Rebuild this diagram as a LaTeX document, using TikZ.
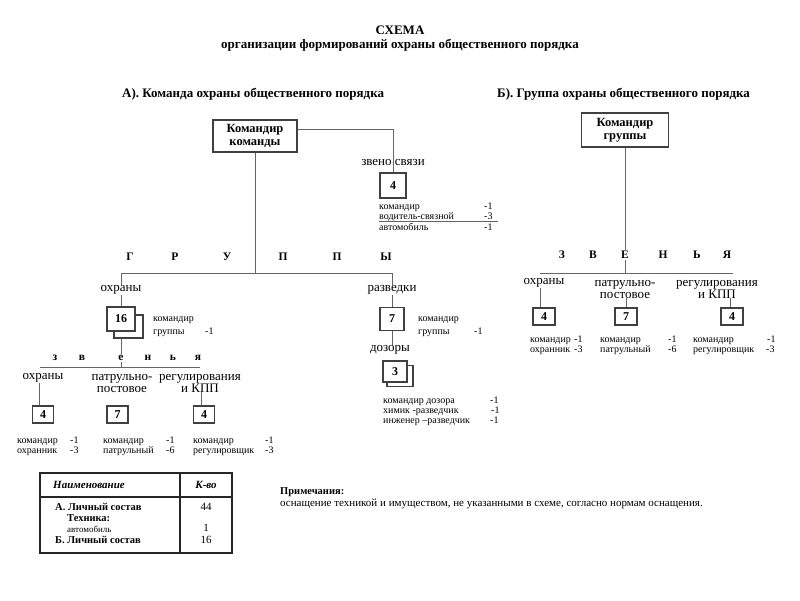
\documentclass[tikz,border=0pt]{standalone}
\usepackage{fontspec}
\setmainfont{Liberation Serif}
\begin{document}
\begin{tikzpicture}[x=1pt,y=-1pt,
  conn/.style={draw=black!60, line width=1pt},
  bx/.style={draw=black!75, line width=1.4pt, fill=white, inner sep=0pt, font=\bfseries\fontsize{12}{12}\selectfont},
  bigbx/.style={draw=black!75, line width=1.4pt, fill=white, inner sep=0pt, align=center, font=\bfseries\fontsize{12.5}{13}\selectfont},
  lbl/.style={inner sep=0pt, align=center, font=\fontsize{13}{12}\selectfont},
  lett/.style={inner sep=1pt, fill=white, font=\bfseries\fontsize{11.5}{12}\selectfont},
  sm/.style={inner sep=0pt, anchor=west, text height=6pt, text depth=2pt, font=\fontsize{10}{10}\selectfont},
  hd/.style={inner sep=0pt, font=\bfseries\fontsize{13}{13}\selectfont},
  tb/.style={inner sep=0pt, anchor=west, text height=6.5pt, text depth=1.5pt, font=\bfseries\fontsize{10.5}{10.5}\selectfont},
  tn/.style={inner sep=0pt, text height=6.5pt, text depth=1.5pt, font=\fontsize{11}{11}\selectfont},
]
\useasboundingbox (0,0) rectangle (800,600);

% titles
\node[hd] (title1) at (400,30) {СХЕМА};
\node[hd] (title2) at (400,45) {организации формирований охраны общественного порядка};
\node[hd, anchor=west] (headA) at (122,94) {А). Команда охраны общественного порядка};
\node[hd, anchor=west] (headB) at (497,94) {Б). Группа охраны общественного порядка};

% ===== A =====
\node[bigbx, minimum width=84pt, minimum height=32pt] (cmdA) at (255,136) {Командир\\команды};
\node[lbl] (zvs) at (393,162) {звено связи};
\node[bx, minimum width=26pt, minimum height=25pt] (b4z) at (393,185.5) {4};
\draw[conn] ([yshift=7pt]cmdA.east) -| (b4z.north);

\node[sm] (z1) at (379,207) {командир};
\node[sm] (z1v) at (484,207) {-1};
\node[sm] (z2) at (379,217) {водитель-связной};
\node[sm] (z2v) at (484,217) {-3};
\node[sm] (z3) at (379,228) {автомобиль};
\node[sm] (z3v) at (484,228) {-1};
\draw[conn, line width=0.8pt] (z2.south west) -- ([xshift=5pt]z2.south west -| z2v.east);

% groups
\coordinate (busA) at (121,273);
\node[lbl] (ohr) at (121,290) {охраны};
\node[lbl] (razv) at (392,290) {разведки};
\draw[conn] (cmdA.south) -- (cmdA.south |- busA);
\draw[conn] (ohr.north) -- (ohr.north |- busA) -- (razv.north |- busA) -- (razv.north);
\node[lett] (g1) at (130,257) {Г};
\node[lett] (g2) at (175,257) {Р};
\node[lett] (g3) at (227,257) {У};
\node[lett] (g4) at (283,257) {П};
\node[lett] (g5) at (337,257) {П};
\node[lett] (g6) at (386,257) {Ы};

% group of guards
\node[bx, minimum width=29pt, minimum height=23pt] (b16b) at (128.5,326.5) {};
\node[bx, minimum width=28pt, minimum height=24pt] (b16) at (121,319) {16};
\draw[conn] (ohr.south) -- (b16.north);
\node[sm] (g16a) at (153,319) {командир};
\node[sm] (g16b) at (153,332) {группы};
\node[sm] (g16c) at (205,332) {-1};

\coordinate (busZA) at (40,367);
\coordinate (busZA2) at (200,367);
\draw[conn] (busZA) -- (busZA2);
\draw[conn] (b16.south |- b16b.south) -- (b16.south |- busZA);
\node[lett] (l1) at (55,358) {з};
\node[lett] (l2) at (82,358) {в};
\node[lett] (l3) at (121,358) {е};
\node[lett] (l4) at (148,358) {н};
\node[lett] (l5) at (173,358) {ь};
\node[lett] (l6) at (198,358) {я};

\node[lbl] (oh2) at (43,378) {охраны};
\node[lbl] (pp) at (122,383) {патрульно-\\постовое};
\node[lbl] (reg) at (200,383) {регулирования\\и КПП};
\node[bx, minimum width=21pt, minimum height=17pt] (b4o) at (43,414.5) {4};
\node[bx, minimum width=21pt, minimum height=17pt] (b7p) at (117.5,414.5) {7};
\node[bx, minimum width=21pt, minimum height=17pt] (b4r) at (204,414.5) {4};
\draw[conn] ([xshift=-4pt]b4o.north) -- ([xshift=-4pt]b4o.north |- oh2.south);
\draw[conn] ([xshift=-3pt]b4r.north) -- ([xshift=-3pt]b4r.north |- reg.south);

\node[sm] (a1) at (17,441) {командир};
\node[sm] (a1v) at (70,441) {-1};
\node[sm] (a2) at (17,451) {охранник};
\node[sm] (a2v) at (70,451) {-3};
\node[sm] (a3) at (103,441) {командир};
\node[sm] (a3v) at (166,441) {-1};
\node[sm] (a4) at (103,451) {патрульный};
\node[sm] (a4v) at (166,451) {-6};
\node[sm] (a5) at (193,441) {командир};
\node[sm] (a5v) at (265,441) {-1};
\node[sm] (a6) at (193,451) {регулировщик};
\node[sm] (a6v) at (265,451) {-3};

% group of reconnaissance
\node[bx, minimum width=24pt, minimum height=23pt] (b7r) at (392,319) {7};
\draw[conn] (b7r.north |- razv.south) -- (b7r.north);
\node[sm] (r1) at (418,319) {командир};
\node[sm] (r2) at (418,332) {группы};
\node[sm] (r2v) at (474,332) {-1};
\node[lbl] (doz) at (390,350) {дозоры};
\draw[conn] (b7r.south) -- (b7r.south |- doz.north);
\node[bx, minimum width=26pt, minimum height=21pt] (b3b) at (400,376) {};
\node[bx, minimum width=24pt, minimum height=21pt] (b3) at (395,371.5) {3};
\node[sm] (d1) at (383,401) {командир дозора};
\node[sm] (d1v) at (490,401) {-1};
\node[sm] (d2) at (383,411) {химик -разведчик};
\node[sm] (d2v) at (491,411) {-1};
\node[sm] (d3) at (383,421) {инженер –разведчик};
\node[sm] (d3v) at (490,421) {-1};

% ===== B =====
\node[bigbx, minimum width=87pt, minimum height=34pt] (cmdB) at (625,130) {Командир\\группы};
\coordinate (busB1) at (540,273);
\coordinate (busB2) at (733,273);
\draw[conn] (busB1) -- (busB2);
\draw[conn] (cmdB.south) -- (cmdB.south |- busB1);
\node[lett] (m1) at (562,255) {З};
\node[lett] (m2) at (593,255) {В};
\node[lett] (m3) at (625,255) {Е};
\node[lett] (m4) at (663,255) {Н};
\node[lett] (m5) at (697,255) {Ь};
\node[lett] (m6) at (727,255) {Я};

\node[lbl] (ohB) at (544,283) {охраны};
\node[lbl] (ppB) at (625,289) {патрульно-\\постовое};
\node[lbl] (regB) at (717,289) {регулирования\\и КПП};
\node[bx, minimum width=22pt, minimum height=17pt] (b4oB) at (544,316.5) {4};
\node[bx, minimum width=22pt, minimum height=17pt] (b7B) at (626,316.5) {7};
\node[bx, minimum width=22pt, minimum height=17pt] (b4rB) at (732,316.5) {4};
\draw[conn] ([xshift=-4pt]b4oB.north) -- ([xshift=-4pt]b4oB.north |- ohB.south);
\draw[conn] (b7B.north) -- (b7B.north |- ppB.south);
\draw[conn] ([xshift=-2pt]b4rB.north) -- ([xshift=-2pt]b4rB.north |- regB.south);

\node[sm] (c1) at (530,340) {командир};
\node[sm] (c1v) at (574,340) {-1};
\node[sm] (c2) at (530,350) {охранник};
\node[sm] (c2v) at (574,350) {-3};
\node[sm] (c3) at (600,340) {командир};
\node[sm] (c3v) at (668,340) {-1};
\node[sm] (c4) at (600,350) {патрульный};
\node[sm] (c4v) at (668,350) {-6};
\node[sm] (c5) at (693,340) {командир};
\node[sm] (c5v) at (767,340) {-1};
\node[sm] (c6) at (693,350) {регулировщик};
\node[sm] (c6v) at (766,350) {-3};

% ===== table =====
\node[draw=black!85, line width=1.2pt, minimum width=192pt, minimum height=80pt, inner sep=0pt] (tbl) at (136,513) {};
\coordinate (hrow) at (0,497);
\coordinate (vcol) at (180,0);
\draw[draw=black!85, line width=1.2pt] (tbl.west |- hrow) -- (tbl.east |- hrow);
\draw[draw=black!85, line width=1.2pt] (vcol |- tbl.north) -- (vcol |- tbl.south);
\node[tb, font=\bfseries\itshape\fontsize{11}{11}\selectfont] (th1) at (53,486) {Наименование};
\node[tn, font=\bfseries\itshape\fontsize{11}{11}\selectfont] (th2) at (206,486) {К-во};
\node[tb] (tr1) at (55,508) {А. Личный состав};
\node[tb] (tr2) at (67,518.5) {Техника:};
\node[tb, font=\fontsize{9}{9}\selectfont] (tr3) at (67,530) {автомобиль};
\node[tb] (tr4) at (55,541) {Б. Личный состав};
\node[tn] (tv1) at (206,508) {44};
\node[tn] (tv2) at (206,529) {1};
\node[tn] (tv3) at (206,541) {16};

% notes
\node[tb, font=\bfseries\fontsize{10.5}{11}\selectfont] (nt1) at (280,492) {Примечания:};
\node[sm, font=\fontsize{11}{11}\selectfont] (nt2) at (280,504) {оснащение техникой и имуществом, не указанными в схеме, согласно нормам оснащения.};
\end{tikzpicture}
\end{document}
